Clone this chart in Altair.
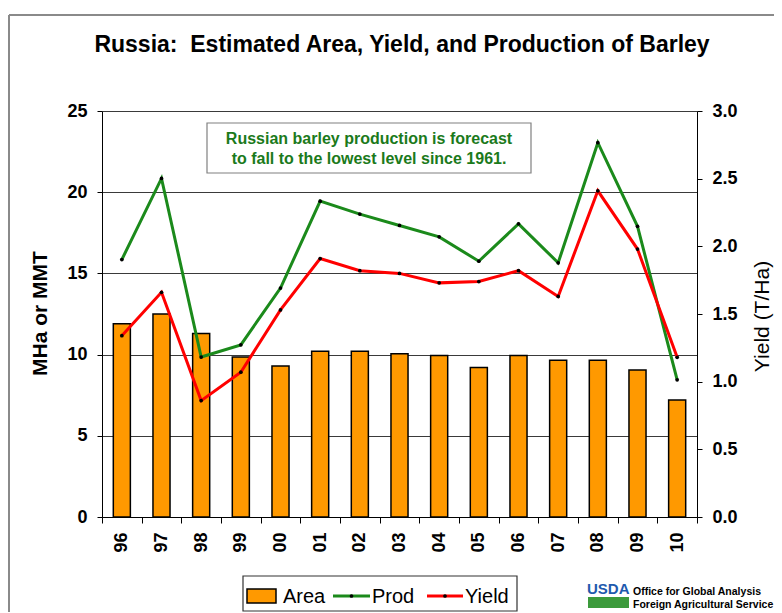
import altair as alt
import pandas as pd

years = ["96", "97", "98", "99", "00", "01", "02", "03", "04", "05", "06", "07", "08", "09", "10"]
area = [11.9, 12.5, 11.3, 9.85, 9.3, 10.2, 10.2, 10.05, 9.95, 9.2, 9.95, 9.65, 9.65, 9.05, 7.2]
prod = [15.85, 20.85, 9.85, 10.6, 14.1, 19.45, 18.65, 17.95, 17.25, 15.75, 18.05, 15.65, 23.05, 17.9, 8.45]
yld = [1.34, 1.66, 0.86, 1.07, 1.53, 1.91, 1.82, 1.80, 1.73, 1.74, 1.82, 1.63, 2.41, 1.98, 1.18]

series_names = ["Area", "Prod", "Yield"]
series_colors = ["#FF9900", "#1B8A1B", "#FF0000"]

title_text = ["Russia:\u00a0 Estimated Area, Yield, and Production of Barley"]
note_lines = ["Russian barley production is forecast", "to fall to the lowest level since 1961."]
logo_lines = ["Office for Global Analysis", "Foreign Agricultural Service"]

df = pd.DataFrame({"Year": years, "Area": area, "Prod": prod, "Yield": yld})
leg_df = pd.DataFrame({"name": series_names, "color": series_colors})
note_df = pd.DataFrame({"line": note_lines, "i": [0, 1]})
logo_df = pd.DataFrame({"line": logo_lines, "i": [0, 1]})
title_df = pd.DataFrame({"t": title_text})
one_df = pd.DataFrame({"t": ["USDA"]})

FONT = "Liberation Sans"
W, H = 595, 406
GREEN, RED, ORANGE = series_colors[1], series_colors[2], series_colors[0]

x_enc = alt.X(
    "Year:N", sort=years, title=None,
    scale=alt.Scale(paddingInner=0, paddingOuter=0),
    axis=alt.Axis(labelAngle=270, labelAlign="right", labelBaseline="middle",
                  labelFont=FONT, labelFontSize=18, labelFontWeight="bold",
                  labelColor="black", labelPadding=9, tickBand="extent",
                  tickSize=6, tickColor="black", domainColor="black",
                  grid=False, labelFlush=False),
)

left_axis = alt.Axis(values=[0, 5, 10, 15, 20, 25], grid=True, gridColor="#3a3a3a",
                     gridWidth=1, domainColor="black", tickColor="black", tickSize=5,
                     labelFont=FONT, labelFontSize=18, labelFontWeight="bold",
                     labelColor="black", labelPadding=10,
                     title="MHa or MMT", titleFont=FONT, titleFontSize=21,
                     titleFontWeight="bold", titleColor="black", titleX=-62, titleY=H / 2 - 1,
                     titleBaseline="middle", titleAngle=270)
right_axis = alt.Axis(orient="right", values=[0, 0.5, 1, 1.5, 2, 2.5, 3], format=".1f",
                      grid=False, domainColor="black", tickColor="black", tickSize=5,
                      labelFont=FONT, labelFontSize=18, labelFontWeight="bold",
                      labelColor="black", labelPadding=10,
                      title="Yield (T/Ha)", titleFont=FONT, titleFontSize=21,
                      titleFontWeight="normal", titleColor="black", titleX=65, titleY=H / 2 + 2,
                      titleBaseline="middle", titleAngle=270)

left_scale = alt.Scale(domain=[0, 25], nice=False)
right_scale = alt.Scale(domain=[0, 3], nice=False)

base = alt.Chart(df).encode(x=x_enc)

bars = base.mark_bar(width=alt.RelativeBandSize(0.43), fill=ORANGE, stroke="black", strokeWidth=1.5).encode(
    y=alt.Y("Area:Q", scale=left_scale, axis=left_axis),
)
prod_line = base.mark_line(strokeWidth=3, color=GREEN).encode(
    y=alt.Y("Prod:Q", scale=left_scale, axis=left_axis),
)
prod_pts = base.mark_point(filled=True, color="black", size=14, opacity=1).encode(
    y=alt.Y("Prod:Q", scale=left_scale, axis=left_axis),
)

# annotation box
note_box = alt.Chart(one_df).mark_rect(fill="white", stroke="#808080", strokeWidth=1.2).encode(
    x=alt.value(105), x2=alt.value(429), y=alt.value(12), y2=alt.value(62))
note_t = [
    alt.Chart(note_df).transform_filter(f"datum.i == {i}").mark_text(
        font=FONT, fontSize=16, fontWeight="bold", color="#1B7A1B", align="center", baseline="middle"
    ).encode(x=alt.value(267), y=alt.value(28 + 19.5 * i), text="line:N")
    for i in range(2)
]

left = alt.layer(bars, prod_line, prod_pts, note_box, *note_t)

yield_line = base.mark_line(strokeWidth=3, color=RED).encode(
    y=alt.Y("Yield:Q", scale=right_scale, axis=right_axis),
)
yield_pts = base.mark_point(filled=True, color="black", size=14, opacity=1).encode(
    y=alt.Y("Yield:Q", scale=right_scale, axis=right_axis),
)
right = alt.layer(yield_line, yield_pts)

# chart title (as a text mark so its position is independent of the frame)
title_mark = alt.Chart(title_df).mark_text(
    font=FONT, fontSize=23, fontWeight="bold", color="black", align="center", baseline="middle"
).encode(x=alt.value(300), y=alt.value(-66), text="t:N")

# legend (built from series names/colours)
LY = 485
leg_box = alt.Chart(one_df).mark_rect(fill="white", stroke="#333333", strokeWidth=1.2).encode(
    x=alt.value(141), x2=alt.value(415), y=alt.value(465), y2=alt.value(500))
leg_area = alt.Chart(leg_df).transform_filter("datum.name == 'Area'").mark_rect(
    fill=ORANGE, stroke="black", strokeWidth=1.5).encode(
    x=alt.value(145), x2=alt.value(174), y=alt.value(LY - 7), y2=alt.value(LY + 7))
leg_lines = []
for nm, x0, x1, col in [("Prod", 231, 268, GREEN), ("Yield", 325, 361, RED)]:
    leg_lines.append(alt.Chart(leg_df).transform_filter(f"datum.name == '{nm}'").mark_rule(
        color=col, strokeWidth=3).encode(x=alt.value(x0), x2=alt.value(x1), y=alt.value(LY)))
    leg_lines.append(alt.Chart(leg_df).transform_filter(f"datum.name == '{nm}'").mark_point(
        filled=True, color="black", size=14, opacity=1).encode(x=alt.value((x0 + x1) / 2), y=alt.value(LY)))
leg_text = []
for nm, x0 in [("Area", 181), ("Prod", 270), ("Yield", 363)]:
    leg_text.append(alt.Chart(leg_df).transform_filter(f"datum.name == '{nm}'").mark_text(
        font=FONT, fontSize=20, color="black", align="left", baseline="middle").encode(
        x=alt.value(x0), y=alt.value(LY + 1), text="name:N"))

# logo
logo_t = [
    alt.Chart(logo_df).transform_filter(f"datum.i == {i}").mark_text(
        font=FONT, fontSize=10.5, fontWeight="bold", color="black", align="left", baseline="middle"
    ).encode(x=alt.value(531), y=alt.value(481 + 13 * i), text="line:N")
    for i in range(2)
]
usda = alt.Chart(one_df).mark_text(font=FONT, fontSize=15, fontWeight="bold", color="#1F5AAE",
                                   align="left", baseline="alphabetic").encode(
    x=alt.value(485), y=alt.value(483), text="t:N")
usda_swoosh = alt.Chart(one_df).mark_rect(fill="#3C9A3C").encode(
    x=alt.value(486), x2=alt.value(527), y=alt.value(486), y2=alt.value(497))

frame_top = alt.Chart(one_df).mark_rule(color="#8a8a8a", strokeWidth=2).encode(
    x=alt.value(-93), x2=alt.value(680), y=alt.value(-96))
frame_left = alt.Chart(one_df).mark_rule(color="#8a8a8a", strokeWidth=2).encode(
    x=alt.value(-93), y=alt.value(-96), y2=alt.value(510))

chart = alt.layer(left, right, title_mark, leg_box, leg_area, *leg_lines, *leg_text, *logo_t, usda,
                  usda_swoosh, frame_top, frame_left).resolve_scale(
    y="independent"
).properties(
    width=W, height=H,
    autosize=alt.AutoSizeParams(type="none"),
    padding={"left": 94, "top": 103, "right": 77, "bottom": 95},
).configure_view(stroke="#808080", strokeWidth=1).configure(background="white")

chart.save("out.html", embed_options={"renderer": "svg", "actions": False})
